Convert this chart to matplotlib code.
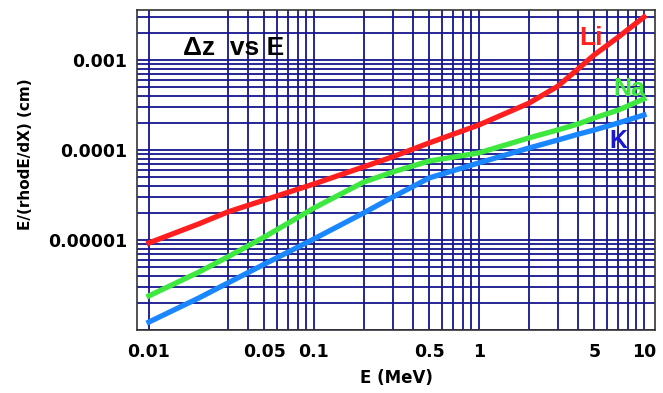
import matplotlib
matplotlib.use("Agg")
import matplotlib.pyplot as plt
from matplotlib.ticker import FixedLocator, NullLocator

plt.rcParams['font.family'] = ['DejaVu Sans']
plt.rcParams['font.weight'] = 'bold'

# energy points (MeV)
energy = [0.01, 0.02, 0.03, 0.05, 0.1, 0.2, 0.3, 0.5, 1, 2, 3, 4, 5, 7, 10]

# E/(rho dE/dX) in cm
li = [9.3e-6, 1.51e-5, 2.05e-5, 2.78e-5, 4.2e-5, 6.5e-5, 8.4e-5, 1.2e-4,
      1.9e-4, 3.3e-4, 5.1e-4, 8.0e-4, 1.14e-3, 1.8e-3, 3.0e-3]
na = [2.4e-6, 4.4e-6, 6.5e-6, 1.08e-5, 2.27e-5, 4.4e-5, 5.7e-5, 7.55e-5,
      9.3e-5, 1.36e-4, 1.67e-4, 1.95e-4, 2.27e-4, 2.78e-4, 3.7e-4]
k = [1.23e-6, 2.27e-6, 3.33e-6, 5.4e-6, 1.03e-5, 2.0e-5, 3.0e-5, 4.9e-5,
     7.2e-5, 1.05e-4, 1.29e-4, 1.5e-4, 1.67e-4, 2.0e-4, 2.45e-4]

xtick_vals = [0.01, 0.05, 0.1, 0.5, 1, 5, 10]
xtick_labels = ['0.01', '0.05', '0.1', '0.5', '1', '5', '10']
ytick_vals = [1e-5, 1e-4, 1e-3]
ytick_labels = ['0.00001', '0.0001', '0.001']

# grid lines of the original (no line at 0.02)
xgrid = [0.01, 0.03, 0.04, 0.05, 0.06, 0.07, 0.08, 0.09,
         0.1, 0.2, 0.3, 0.4, 0.5, 0.6, 0.7, 0.8, 0.9,
         1, 2, 3, 4, 5, 6, 7, 8, 9, 10]
ygrid = [m * 10.0 ** p for p in (-6, -5, -4, -3) for m in range(1, 10)]

grid_color = '#16168e'

fig = plt.figure(figsize=(6.63, 3.93), dpi=100)
ax = fig.add_axes([0.2066, 0.160, 0.7814, 0.8146])
ax.set_xscale('log')
ax.set_yscale('log')
ax.set_xlim(0.00846, 11.67)
ax.set_ylim(1e-6, 3.59e-3)

for gx in xgrid:
    ax.axvline(gx, color=grid_color, lw=1.3, zorder=1)
for gy in ygrid:
    ax.axhline(gy, color=grid_color, lw=1.3, zorder=1)

ax.plot(energy, li, color='#ff1f1f', lw=3.8, zorder=3)
ax.plot(energy, na, color='#3ee83e', lw=3.8, zorder=3)
ax.plot(energy, k, color='#1a86ff', lw=3.8, zorder=3)

ax.xaxis.set_major_locator(FixedLocator(xtick_vals))
ax.xaxis.set_minor_locator(NullLocator())
ax.set_xticklabels(xtick_labels)
ax.yaxis.set_major_locator(FixedLocator(ytick_vals))
ax.yaxis.set_minor_locator(NullLocator())
ax.set_yticklabels(ytick_labels)
ax.tick_params(length=0, labelsize=12.5)
ax.tick_params(axis='x', pad=9)
ax.tick_params(axis='y', pad=7)
for lab in ax.get_xticklabels() + ax.get_yticklabels():
    lab.set_fontweight('bold')

for s in ax.spines.values():
    s.set_color('#333333')
    s.set_linewidth(1.2)

ax.set_xlabel('E (MeV)', fontsize=12, fontweight='bold', labelpad=6)
ax.set_ylabel('E/(rhodE/dX) (cm)', fontsize=11, fontweight='bold')
ax.yaxis.set_label_coords(-0.200, 0.55)

sans = ['Liberation Sans', 'DejaVu Sans']
ax.text(0.089, 0.881, '\u0394z  vs E', transform=ax.transAxes, fontsize=19,
        fontweight='bold', color='black', va='center', zorder=4, family=sans)
ax.text(0.876, 0.9125, 'Li', transform=ax.transAxes, fontsize=19,
        fontweight='bold', color='#ff2020', ha='center', va='center',
        zorder=4, family=sans)
ax.text(0.950, 0.753, 'Na', transform=ax.transAxes, fontsize=18,
        fontweight='bold', color='#3ee83e', ha='center', va='center',
        zorder=4, family=sans)
ax.text(0.929, 0.59, 'K', transform=ax.transAxes, fontsize=18,
        fontweight='bold', color='#1818d0', ha='center', va='center',
        zorder=4, family=sans)

fig.savefig('out.png', dpi=100)
